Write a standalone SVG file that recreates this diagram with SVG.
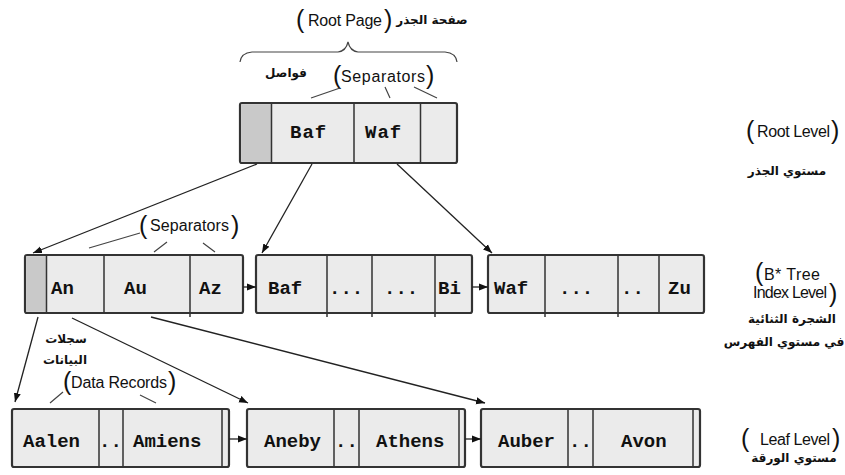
<svg xmlns="http://www.w3.org/2000/svg" width="845" height="475" viewBox="0 0 845 475">
  <defs>
    <marker id="arrow" markerUnits="userSpaceOnUse" markerWidth="10" markerHeight="8" refX="9" refY="4" orient="auto">
      <path d="M0,0.5 L9,4 L0,7.5 Z" fill="#111"/>
    </marker>
    <style>
      .box { fill: #ebebeb; stroke: #333; stroke-width: 2.2; }
      .cap { fill: #c9c9c9; stroke: none; }
      .div { stroke: #333; stroke-width: 1.5; }
      .key { font-family: "Liberation Mono", "DejaVu Sans Mono", monospace; font-weight: bold; font-size: 19px; fill: #111; }
      .lbl { font-family: "Liberation Sans", Arial, sans-serif; font-size: 16px; fill: #111; }
      .par { font-family: "Liberation Sans", Arial, sans-serif; font-size: 25px; fill: #111; }
      .ar { font-family: "DejaVu Sans", "Noto Sans", sans-serif; font-weight: bold; font-size: 12px; fill: #111; text-anchor: middle; }
      .link { stroke: #222; stroke-width: 1.3; fill: none; marker-end: url(#arrow); }
      .note { stroke: #444; stroke-width: 1.2; fill: none; }
    </style>
  </defs>
  <rect width="845" height="475" fill="#fff"/>

  <!-- captions -->
  <g id="captions">
    <path class="note" d="M240,62 Q241,53 252,52 L338,52 Q346,51 348,42 Q350,51 358,52 L445,52 Q456,53 457,62"/>
    <text class="par" x="296" y="28">(</text>
    <text class="lbl" x="308" y="26" textLength="74">Root Page</text>
    <text class="par" x="384" y="28">)</text>
    <text class="ar" x="432" y="24" font-size="14">صفحة الجذر</text>

    <text class="ar" x="286" y="77">فواصل</text>
    <text class="par" x="333" y="84">(</text>
    <text class="lbl" x="341" y="82" textLength="84">Separators</text>
    <text class="par" x="426" y="84">)</text>
    <path class="note" d="M340,88 L311,98 M385,87 L390,98 M414,87 L437,98"/>

    <text class="par" x="139" y="234">(</text>
    <text class="lbl" x="150" y="231" textLength="79">Separators</text>
    <text class="par" x="231" y="234">)</text>
    <path class="note" d="M140,233 L89,248 M167,242 L154,252 M203,243 L215,252"/>

    <text class="ar" x="66" y="343">سجلات</text>
    <text class="ar" x="65" y="364">البيانات</text>
    <text class="par" x="63" y="390" font-size="22">(</text>
    <text class="lbl" x="71" y="388" textLength="96">Data Records</text>
    <text class="par" x="168" y="390" font-size="22">)</text>
    <path class="note" d="M63,392 L50,403 M140,395 L156,403"/>

    <text class="par" x="746" y="139">(</text>
    <text class="lbl" x="757" y="137" textLength="73">Root Level</text>
    <text class="par" x="831" y="139">)</text>
    <text class="ar" x="787" y="175">مستوي الجذر</text>

    <text class="par" x="755" y="281" font-size="20">(</text>
    <text class="lbl" x="764" y="280" textLength="56">B* Tree</text>
    <text class="lbl" x="753" y="298" textLength="74">Index Level</text>
    <text class="par" x="829" y="302" font-size="22">)</text>
    <text class="ar" x="792" y="323">الشجرة الثنائية</text>
    <text class="ar" x="784" y="346">في مستوي الفهرس</text>

    <text class="par" x="741" y="447">(</text>
    <text class="lbl" x="760" y="445" textLength="70">Leaf Level</text>
    <text class="par" x="832" y="447">)</text>
    <text class="ar" x="794" y="462">مستوي الورقة</text>
  </g>

  <!-- root page -->
  <g id="root">
    <rect class="box" x="240" y="103" width="217" height="60" rx="2"/>
    <rect class="cap" x="241.2" y="104.2" width="30" height="57.6"/>
    <path class="div" d="M271.5,103 V163 M354,103 V163 M420.5,103 V163"/>
    <text class="key" x="290" y="138" letter-spacing="1">Baf</text>
    <text class="key" x="365" y="138" letter-spacing="1">Waf</text>
  </g>

  <!-- index level -->
  <g id="index-1">
    <rect class="box" x="25" y="255" width="218" height="58" rx="2"/>
    <rect class="cap" x="26.2" y="256.2" width="20" height="55.6"/>
    <path class="div" d="M46.5,255 V313 M104,255 V313 M190,255 V317"/>
    <text class="key" x="51" y="294">An</text>
    <text class="key" x="124" y="294">Au</text>
    <text class="key" x="199" y="294">Az</text>
  </g>
  <g id="index-2">
    <rect class="box" x="256" y="255" width="216" height="58" rx="2"/>
    <path class="div" d="M327,255 V317 M372,255 V317 M435,255 V317"/>
    <text class="key" x="268" y="294">Baf</text>
    <text class="key" x="329" y="294">...</text>
    <text class="key" x="384" y="294">...</text>
    <text class="key" x="438" y="294">Bi</text>
  </g>
  <g id="index-3">
    <rect class="box" x="488" y="255" width="216" height="58" rx="2"/>
    <path class="div" d="M545,255 V317 M618,255 V317 M659,255 V313"/>
    <text class="key" x="494" y="294">Waf</text>
    <text class="key" x="559" y="294">...</text>
    <text class="key" x="621" y="294">..</text>
    <text class="key" x="668" y="294">Zu</text>
  </g>

  <!-- leaf level -->
  <g id="leaf-1">
    <rect class="box" x="12" y="409" width="217" height="58" rx="2"/>
    <path class="div" d="M99,409 V467 M123,409 V467 M222,409 V467"/>
    <text class="key" x="23" y="447">Aalen</text>
    <text class="key" x="99" y="447">..</text>
    <text class="key" x="133" y="447">Amiens</text>
  </g>
  <g id="leaf-2">
    <rect class="box" x="247" y="409" width="218" height="58" rx="2"/>
    <path class="div" d="M334,409 V467 M359,409 V467 M459,409 V467"/>
    <text class="key" x="264" y="447">Aneby</text>
    <text class="key" x="335" y="447">..</text>
    <text class="key" x="376" y="447">Athens</text>
  </g>
  <g id="leaf-3">
    <rect class="box" x="481" y="409" width="219" height="58" rx="2"/>
    <path class="div" d="M568,409 V467 M593,409 V467 M693,409 V467"/>
    <text class="key" x="498" y="447">Auber</text>
    <text class="key" x="569" y="447">..</text>
    <text class="key" x="621" y="447">Avon</text>
  </g>

  <!-- connectors -->
  <g id="connectors">
    <path class="link" d="M257,164 L33,253"/>
    <path class="link" d="M312,164 L262,253"/>
    <path class="link" d="M397,164 L492,253"/>
    <path class="link" d="M243,287 L256,287"/>
    <path class="link" d="M472,287 L488,287"/>
    <path class="link" d="M38,317 L15,402"/>
    <path class="link" d="M72,318 L248,403"/>
    <path class="link" d="M151,317 L485,403"/>
    <path class="link" d="M229,439 L247,439"/>
    <path class="link" d="M465,439 L481,439"/>
  </g>
</svg>
